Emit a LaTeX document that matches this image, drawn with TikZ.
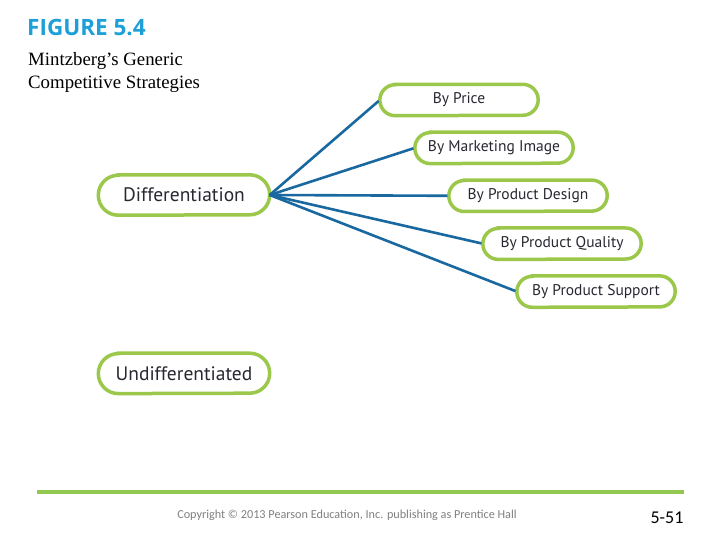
\documentclass[tikz,border=0pt]{standalone}
\usepackage{fontspec}
\setmainfont{Liberation Serif}
\setsansfont{PT Sans}
\newfontfamily\figfont{Open Sans}
\newfontfamily\notefont{Carlito}
\usepackage{xcolor}
\usetikzlibrary{positioning}
\usetikzlibrary{backgrounds}
\definecolor{boxgreen}{RGB}{155,200,75}
\definecolor{rulegreen}{RGB}{146,200,80}
\definecolor{linkblue}{RGB}{26,104,160}
\definecolor{titleblue}{RGB}{29,160,216}
\definecolor{boxtext}{RGB}{40,40,50}
\tikzset{
	x=1pt, y=-1pt,
	node distance = 16.5pt and 14pt,
	every node/.style={align=center, inner sep=0pt},
	strategy/.style={minimum width=171pt, minimum height=40pt, text=boxtext, font=\sffamily\fontsize{19.5}{22}\selectfont},
	option/.style={minimum width=158pt, minimum height=31pt, text=boxtext, font=\sffamily\fontsize{15.5}{18}\selectfont},
	pill/.style={draw=boxgreen, line width=3.5pt, fill=white},
	pillshadow/.style={fill=gray, opacity=0.3},
	link/.style={draw=linkblue, line width=2.6pt, shorten >=1.5pt}
}
% pill outline of a node, #1 = node, #2 = end radius
\newcommand{\pillpath}[2]{([xshift=#2]#1.north west) -- ([xshift=-#2]#1.north east)
	arc[start angle=90, end angle=-90, radius=#2] -- ([xshift=#2]#1.south west)
	arc[start angle=270, end angle=90, radius=#2] -- cycle}

\begin{document}
\begin{tikzpicture}
	% Title
	\node (fig) [anchor=north west, text=titleblue, font=\figfont\bfseries\fontsize{22.5}{24}\selectfont] at (27,19) {FIGURE 5.4};
	\node (sub) [anchor=north west, align=left, font=\rmfamily\fontsize{18.8}{23}\selectfont] at (28,52) {Mintzberg’s Generic\\Competitive Strategies};
	
	% strategies
	\node (diff) [strategy] at (184,195) {Differentiation};
	\node (undiff) [strategy, below = 138pt of diff] {Undifferentiated};
	
	% options
	\node (price) [option] at (459,100) {By Price};
	\node (image) [option, below = of price, xshift=35pt] {By Marketing Image};
	\node (design) [option, below = of image, xshift=34pt] {By Product Design};
	\node (quality) [option, below = of design, xshift=34pt] {By Product Quality};
	\node (support) [option, below = of quality, xshift=34pt] {By Product Support};
	
	\begin{scope}[on background layer]
		\fill[white] (0,0) rectangle (720,540);
		\foreach \n/\r in {diff/20pt, undiff/20pt, price/15.5pt, image/15.5pt, design/15.5pt, quality/15.5pt, support/15.5pt} {
			\begin{scope}[xshift=3pt, yshift=-4pt]
				\fill[pillshadow] \pillpath{\n}{\r};
			\end{scope}
			\draw[pill] \pillpath{\n}{\r};
		}
	\end{scope}
	
	\foreach \opt in {price, image, design, quality, support}
		\path[link] (diff.east) -- (\opt.west);
	
	% footer
	\coordinate (rl) at (37,492);
	\coordinate (rr) at (684,492);
	\draw[rulegreen, line width=4pt] (rl) -- (rr);
	\node (copy) [text=gray, font=\notefont\fontsize{12.2}{14}\selectfont] at (347,515) {Copyright © 2013 Pearson Education, Inc. publishing as Prentice Hall};
	\node (page) [font=\notefont\fontsize{18}{20}\selectfont] at (667,518) {5-51};
	\useasboundingbox (0,0) rectangle (720,540);
\end{tikzpicture}
\end{document}
